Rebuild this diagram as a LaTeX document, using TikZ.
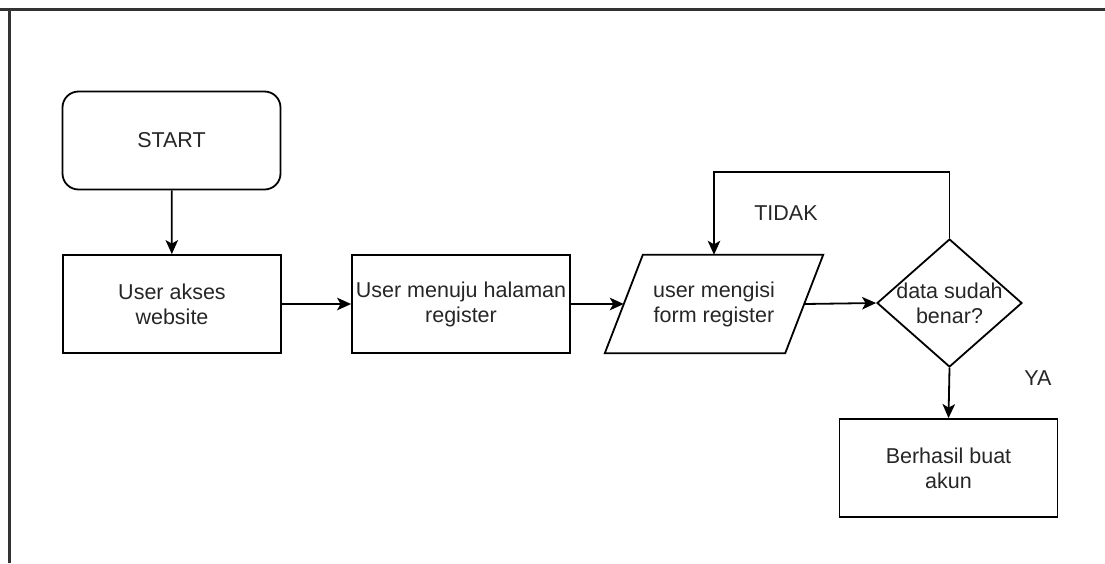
\documentclass[tikz,border=0pt]{standalone}
\usepackage{fontspec}
\setmainfont{Liberation Sans}
\usetikzlibrary{shapes.geometric,arrows.meta}
\begin{document}
\begin{tikzpicture}[x=1pt,y=-1pt,
  every node/.style={font=\fontsize{21.5}{25}\selectfont, text=black!85},
  procbox/.style={draw, line width=1.8pt, minimum width=218pt, minimum height=98pt, inner sep=0pt, align=center},
  startbox/.style={procbox, rounded corners=16pt},
  plainbox/.style={minimum width=218pt, minimum height=98pt, inner sep=0pt, align=center},
  decision/.style={draw, diamond, line width=1.8pt, minimum width=145pt, minimum height=128pt, inner sep=0pt, align=center},
  flow/.style={line width=1.8pt, -{Stealth[length=14pt,width=12.5pt,inset=3.5pt]}},
  edge/.style={line width=1.8pt, line join=miter},
  frame/.style={line width=3pt, draw=black!80}
]
\useasboundingbox (0,0) rectangle (1105,563);
\draw[frame] (0,9.5) -- (1105,9.5);
\draw[frame] (9.5,9.5) -- (9.5,563);

\node[startbox] (start) at (171.5,140.5) {START};
\node[procbox] (akses) at (172,304) {User akses\\website};
\node[procbox] (menuju) at (461,304) {User menuju halaman\\register};
\node[plainbox] (form) at (714,304) {user mengisi\\form register};
\draw[edge] (form.south west) -- ([xshift=-38pt]form.south east) -- (form.north east) -- ([xshift=38pt]form.north west) -- cycle;
\coordinate (formL) at ([xshift=19pt]form.west);
\coordinate (formR) at ([xshift=-19pt]form.east);
\node[decision] (dec) at (949.5,303) {\makebox[0pt]{data sudah}\\\makebox[0pt]{benar?}};
\node[procbox] (done) at (948.5,468) {Berhasil buat\\akun};

\node (tidak) at (786,213) {TIDAK};
\node (ya) at (1038,378) {YA};

\draw[flow] (start) -- (akses);
\draw[flow] (akses) -- (menuju);
\draw[flow] (menuju) -- (formL);
\draw[flow] (formR) -- (dec.west);
\draw[flow] (dec.north) -- ++(0,-66) -| (form.north);
\draw[flow] (dec.south) -- (done.north);
\end{tikzpicture}
\end{document}
